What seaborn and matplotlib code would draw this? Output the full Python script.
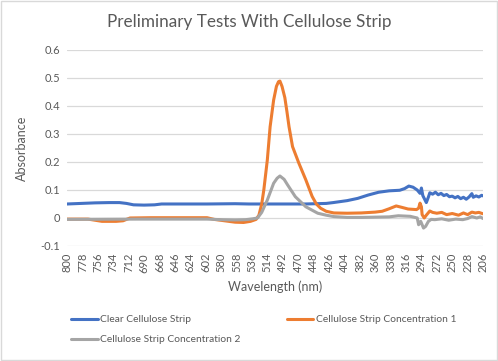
import pandas as pd
import matplotlib.pyplot as plt
import seaborn as sns
from matplotlib.patches import Rectangle

# data (wavelength nm, absorbance)
clear_wl = [800, 780, 760, 740, 725, 715, 705, 690, 675, 665, 600, 560, 540, 500, 460, 430, 420,
            400, 385, 370, 355, 340, 325, 318, 312, 306, 300, 296, 294, 292, 290, 287, 284, 282,
            278, 274, 270, 266, 262, 258, 254, 250, 246, 242, 238, 234, 230, 226, 222, 220, 216,
            212, 208, 206]
clear_abs = [0.05, 0.052, 0.054, 0.055, 0.055, 0.052, 0.047, 0.046, 0.047, 0.05, 0.05, 0.051,
             0.05, 0.05, 0.05, 0.052, 0.055, 0.062, 0.07, 0.082, 0.092, 0.097, 0.099, 0.105,
             0.114, 0.11, 0.1, 0.088, 0.107, 0.08, 0.07, 0.055, 0.075, 0.09, 0.085, 0.092,
             0.083, 0.088, 0.08, 0.084, 0.076, 0.078, 0.072, 0.077, 0.069, 0.074, 0.067, 0.075,
             0.087, 0.074, 0.079, 0.075, 0.081, 0.079]

conc1_wl = [800, 770, 760, 750, 730, 720, 710, 680, 640, 600, 590, 575, 560, 548, 538, 530, 526,
            522, 519, 514, 510, 505, 501, 498, 496, 493, 489, 486, 483, 478, 469, 459, 450, 444,
            438, 430, 419, 400, 380, 360, 350, 340, 330, 322, 313, 301, 298, 296, 294, 293, 290,
            287, 282, 278, 272, 265, 258, 250, 241, 234, 228, 222, 217, 212, 206]
conc1_abs = [-0.004, -0.004, -0.008, -0.012, -0.012, -0.01, 0.0, 0.001, 0.001, 0.001, -0.005,
             -0.01, -0.015, -0.016, -0.012, -0.005, 0.01, 0.05, 0.1, 0.207, 0.326, 0.421, 0.47,
             0.487, 0.489, 0.47, 0.43, 0.38, 0.326, 0.255, 0.196, 0.136, 0.077, 0.05, 0.035,
             0.024, 0.018, 0.017, 0.018, 0.021, 0.024, 0.033, 0.043, 0.038, 0.032, 0.03, 0.035,
             0.053, 0.04, 0.012, 0.0, 0.01, 0.025, 0.02, 0.017, 0.02, 0.012, 0.016, 0.01, 0.018,
             0.012, 0.021, 0.018, 0.02, 0.015]

conc2_wl = [800, 700, 600, 580, 560, 545, 535, 528, 522, 514, 505, 500, 496, 490, 485, 474, 459,
            442, 430, 419, 400, 380, 360, 340, 327, 310, 300, 298, 295, 291, 288, 284, 280, 275,
            265, 255, 245, 235, 228, 222, 215, 210, 206]
conc2_abs = [-0.005, -0.004, -0.004, -0.006, -0.007, -0.006, -0.003, 0.0, 0.02, 0.064, 0.124,
             0.142, 0.15, 0.138, 0.118, 0.076, 0.04, 0.017, 0.01, 0.005, 0.002, 0.002, 0.003,
             0.004, 0.008, 0.006, 0.0, -0.024, -0.012, -0.036, -0.03, -0.012, -0.005, -0.006,
             -0.003, -0.008, -0.004, -0.006, -0.002, 0.005, 0.0, 0.004, -0.002]

series_names = ["Clear Cellulose Strip", "Cellulose Strip Concentration 1",
                "Cellulose Strip Concentration 2"]
series_colors = ["#4472C4", "#ED7D31", "#A5A5A5"]
wl_ticks = list(range(800, 205, -22))
abs_ticks = [-0.1, 0, 0.1, 0.2, 0.3, 0.4, 0.5, 0.6]
abs_labels = ["-0.1", "0", "0.1", "0.2", "0.3", "0.4", "0.5", "0.6"]

df = pd.concat([
    pd.DataFrame({"wl": clear_wl, "abs": clear_abs, "series": series_names[0]}),
    pd.DataFrame({"wl": conc1_wl, "abs": conc1_abs, "series": series_names[1]}),
    pd.DataFrame({"wl": conc2_wl, "abs": conc2_abs, "series": series_names[2]}),
])

sns.set_style("white")
plt.rcParams["font.family"] = ["Lato", "DejaVu Sans"]
txt = "#595959"

fig = plt.figure(figsize=(4.98, 3.61), dpi=100)
ax = fig.add_axes([0.1345, 0.3186, 0.8355, 0.5429])

sns.lineplot(data=df, x="wl", y="abs", hue="series", palette=series_colors,
             hue_order=series_names, linewidth=2.2, ax=ax, legend=False)

ax.set_xlim(800, 206)
ax.set_ylim(-0.1, 0.6)
ax.set_xticks(wl_ticks)
ax.set_xticklabels([str(t) for t in wl_ticks], rotation=90, fontsize=8, color=txt)
ax.set_yticks(abs_ticks)
ax.set_yticklabels(abs_labels, fontsize=8, color=txt)
ax.tick_params(axis="both", length=0, pad=5)
ax.grid(axis="y", color="#D9D9D9", linewidth=0.9)
ax.set_axisbelow(True)
for s in ax.spines.values():
    s.set_visible(False)

ax.set_xlabel("Wavelength (nm)", fontsize=9, color=txt, labelpad=6)
ax.set_ylabel("Absorbance", fontsize=9, color=txt, labelpad=9)
fig.suptitle("Preliminary Tests With Cellulose Strip", fontsize=12.3, color=txt, y=0.962)

# legend, Excel-style row order
handles = [plt.Line2D([], [], color=c, linewidth=2.2) for c in series_colors]
order = [0, 2, 1]
fig.legend([handles[i] for i in order], [series_names[i] for i in order],
           loc="upper left", bbox_to_anchor=(0.135, 0.138), ncol=2, frameon=False,
           fontsize=7.4, labelcolor=txt, handlelength=2.6, handletextpad=0.2,
           columnspacing=4.5, labelspacing=1.05, borderaxespad=0)

fig.patches.append(Rectangle((0.002, 0.003), 0.996, 0.994, transform=fig.transFigure,
                             fill=False, edgecolor="#D9D9D9", linewidth=1))

fig.savefig("out.png", dpi=100)
